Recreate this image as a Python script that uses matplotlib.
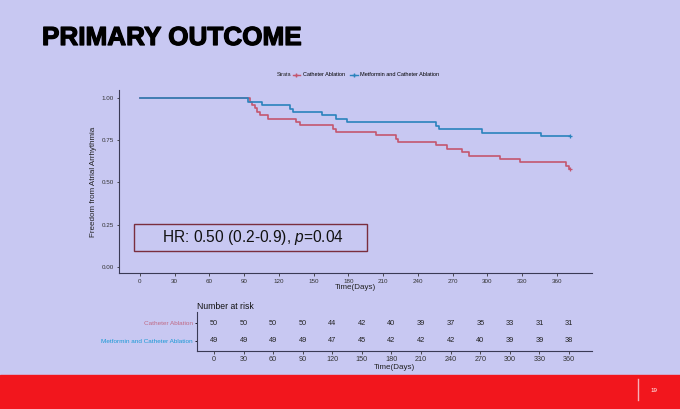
import matplotlib
matplotlib.use("Agg")
import matplotlib.pyplot as plt
import matplotlib.patheffects as pe
from matplotlib.lines import Line2D
from matplotlib.patches import Rectangle

plt.rcParams['font.family'] = ['Liberation Sans', 'DejaVu Sans']
plt.rcParams['mathtext.fontset'] = 'custom'
plt.rcParams['mathtext.rm'] = 'Liberation Sans'
plt.rcParams['mathtext.it'] = 'Liberation Sans:italic'

## DATA
groups = ["Catheter Ablation", "Metformin and Catheter Ablation"]

t_ca = [0, 95, 97, 99, 101, 104, 111, 135, 138, 167, 169, 204, 221, 223,
        256, 265, 278, 284, 311, 328, 368, 370, 371]
s_ca = [1.00, 0.98, 0.96, 0.94, 0.92, 0.90, 0.88, 0.86, 0.84, 0.82, 0.80, 0.78,
        0.76, 0.74, 0.72, 0.70, 0.68, 0.66, 0.64, 0.62, 0.60, 0.58, 0.58]

t_mca = [0, 93.6, 105, 130, 132, 157, 169, 179, 256, 258, 295, 346, 371]
s_mca = [1.000, 0.980, 0.959, 0.939, 0.918, 0.898, 0.878, 0.857, 0.837, 0.816,
         0.796, 0.776, 0.776]

risk_times = [0, 30, 60, 90, 120, 150, 180, 210, 240, 270, 300, 330, 360]
risk_ca = [50, 50, 50, 50, 44, 42, 40, 39, 37, 35, 33, 31, 31]
risk_mca = [49, 49, 49, 49, 47, 45, 42, 42, 42, 40, 39, 39, 38]

hr_text = "HR: 0.50 (0.2-0.9), $p$=0.04"

## STYLE
bg = '#c8c8f2'
c_ca = '#c4566f'
c_mca = '#2a83bd'
axcol = '#3a3a55'

W, H = 680, 409
fig = plt.figure(figsize=(W / 100, H / 100), dpi=100, facecolor=bg)

def fx(px):
    return px / W

def fy(py):
    return 1 - py / H

# Folie: Titel + roter Balken
fig.text(fx(42), fy(38), "PRIMARY OUTCOME", fontsize=18.8, fontweight='bold',
         va='center', ha='left', color='black',
         path_effects=[pe.withStroke(linewidth=0.9, foreground='black')])
fig.patches.append(Rectangle((0, 0), 1, fy(375), transform=fig.transFigure,
                             color='#f2161d', zorder=0))
fig.add_artist(Line2D([fx(638), fx(638)], [fy(379), fy(400)], color='#f6b0b8', lw=1.0))
fig.text(fx(650), fy(390), "19", fontsize=4.5, color='white', va='center', ha='left')

# Hauptplot KM
ax = fig.add_axes([fx(119), fy(273.4), fx(591.7 - 119), (273.4 - 89.9) / H])
ax.set_facecolor(bg)
ax.step(t_ca, s_ca, where='post', color=c_ca, lw=1.2)
ax.step(t_mca, s_mca, where='post', color=c_mca, lw=1.2)
ax.plot(t_ca[-1], s_ca[-1], '+', color=c_ca, ms=3.5, mew=0.9)
ax.plot(t_mca[-1], s_mca[-1], '+', color=c_mca, ms=3.5, mew=0.9)
ax.set_xlim(-18, 390)
ax.set_ylim(-0.04, 1.05)
ax.set_xticks(risk_times)
ax.set_yticks([0, 0.25, 0.5, 0.75, 1.0])
ax.set_yticklabels(["0.00", "0.25", "0.50", "0.75", "1.00"])
for sp in ['top', 'right']:
    ax.spines[sp].set_visible(False)
for sp in ['left', 'bottom']:
    ax.spines[sp].set_color(axcol)
    ax.spines[sp].set_linewidth(0.8)
ax.tick_params(labelsize=4.5, colors='#333333', length=1.8, width=0.6, pad=2)
ax.set_xlabel("Time(Days)", fontsize=5.8, labelpad=0.5, color='#222222')
ax.set_ylabel("Freedom from Atrial Arrhythmia", fontsize=5.8, labelpad=3, color='#222222')

ax.add_patch(Rectangle((0.032, 0.124), 0.492, 0.145, transform=ax.transAxes,
                       fill=False, edgecolor='#7a2e3e', lw=1.0))
ax.text(0.283, 0.1965, hr_text, transform=ax.transAxes, fontsize=11.2,
        ha='center', va='center', color='#111111')

# Legende
fig.text(fx(277), fy(75), "Strata", fontsize=4, va='center', ha='left', color='#222222')
handles = [Line2D([0], [0], color=c_ca, lw=1, marker='+', ms=3),
           Line2D([0], [0], color=c_mca, lw=1, marker='+', ms=3)]
fig.legend(handles, groups, loc='center', bbox_to_anchor=(fx(366), fy(75)), ncol=2,
           frameon=False, fontsize=4, handlelength=1.4, handletextpad=0.4,
           columnspacing=1.0, borderpad=0)

# Number at risk
axr = fig.add_axes([fx(196.7), fy(350.7), fx(591.7 - 196.7), 39 / H])
axr.set_facecolor(bg)
axr.set_xlim(-17.5, 383)
axr.set_ylim(-0.556, 1.667)
for t, n1, n2 in zip(risk_times, risk_ca, risk_mca):
    axr.text(t, 1, str(n1), fontsize=5.3, ha='center', va='center', color='#222222')
    axr.text(t, 0, str(n2), fontsize=5.3, ha='center', va='center', color='#222222')
axr.set_xticks(risk_times)
axr.set_yticks([1, 0])
axr.set_yticklabels(groups)
for lab, col in zip(axr.get_yticklabels(), ['#c06a85', '#1b9ad6']):
    lab.set_color(col)
for sp in ['top', 'right']:
    axr.spines[sp].set_visible(False)
for sp in ['left', 'bottom']:
    axr.spines[sp].set_color(axcol)
    axr.spines[sp].set_linewidth(0.8)
axr.tick_params(axis='x', labelsize=5.2, colors='#333333', length=1.8, width=0.6, pad=2)
axr.tick_params(axis='y', labelsize=4.6, length=1.8, width=0.6, pad=1)
axr.set_xlabel("Time(Days)", fontsize=5.8, labelpad=0.5, color='#222222')
axr.set_title("Number at risk", fontsize=6.2, loc='left', pad=2, color='#111111')

fig.savefig("out.png", dpi=100, facecolor=bg)
